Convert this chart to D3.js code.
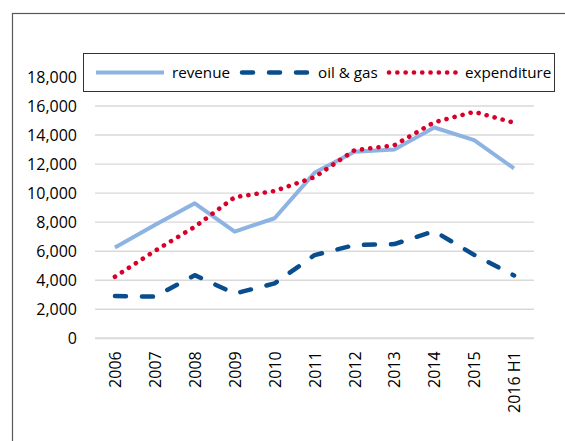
<!DOCTYPE html>
<html>
<head>
<meta charset="utf-8">
<script src="https://cdn.jsdelivr.net/npm/d3@7"></script>
<style>
  body { margin: 0; background: #fff; }
  svg { display: block; font-family: "Open Sans", sans-serif; }
</style>
</head>
<body>
<div id="chart"></div>
<script>
// data
const years = ['2006', '2007', '2008', '2009', '2010', '2011', '2012', '2013', '2014', '2015', '2016 H1'];
const revenue = [6250, 7800, 9300, 7350, 8270, 11400, 12850, 13000, 14520, 13650, 11700];
const oilGas = [2910, 2870, 4350, 3080, 3780, 5730, 6420, 6490, 7380, 5750, 4330];
const expenditure = [4240, 6020, 7680, 9720, 10150, 11100, 12950, 13300, 14880, 15600, 14850];
const yTicks = [0, 2000, 4000, 6000, 8000, 10000, 12000, 14000, 16000, 18000];

const series = [
  { name: 'revenue', values: revenue, color: '#8db3e2', dash: null, cap: 'butt', width: 4 },
  { name: 'oil & gas', values: oilGas, color: '#0a4d8c', dash: '11,16', cap: 'round', width: 4.5 },
  { name: 'expenditure', values: expenditure, color: '#d8002a', dash: '0.1,8.2', cap: 'round', width: 4.6 },
];

const W = 565, H = 441;
const plot = { left: 95, right: 534, top: 77, bottom: 338.3 };

const svg = d3.select('#chart').append('svg')
  .attr('width', W)
  .attr('height', H);

// outer frame (runs off the right and bottom edges)
svg.append('rect')
  .attr('x', 12.5).attr('y', 13.5)
  .attr('width', 600).attr('height', 500)
  .attr('fill', 'none')
  .attr('stroke', '#595959')
  .attr('stroke-width', 1.2);

const x = d3.scalePoint()
  .domain(years)
  .range([plot.left, plot.right])
  .padding(0.5);

const y = d3.scaleLinear()
  .domain([0, 18000])
  .range([plot.bottom, plot.top]);

// gridlines
svg.append('g')
  .selectAll('line')
  .data(yTicks)
  .join('line')
  .attr('x1', plot.left)
  .attr('x2', plot.right)
  .attr('y1', (d) => y(d))
  .attr('y2', (d) => y(d))
  .attr('stroke', '#d9d9d9')
  .attr('stroke-width', (d) => (d === 0 ? 2 : 1.4));

// y axis labels
const yAxis = svg.append('g')
  .attr('transform', `translate(${plot.left - 18},0)`)
  .call(d3.axisLeft(y).tickValues(yTicks).tickSize(0).tickPadding(0)
    .tickFormat(d3.format(',')));
yAxis.select('.domain').remove();
yAxis.selectAll('text')
  .attr('font-family', '"Open Sans", sans-serif')
  .attr('font-size', 16)
  .attr('fill', '#000');

// x axis labels, rotated
const xAxis = svg.append('g')
  .attr('transform', `translate(0,${plot.bottom + 13})`)
  .call(d3.axisBottom(x).tickSize(0).tickPadding(0));
xAxis.select('.domain').remove();
xAxis.selectAll('text')
  .attr('font-family', '"Open Sans", sans-serif')
  .attr('font-size', 16)
  .attr('fill', '#000')
  .attr('transform', 'rotate(-90)')
  .attr('text-anchor', 'end')
  .attr('x', 0)
  .attr('y', 0)
  .attr('dy', '0.35em');

// lines
const line = d3.line()
  .x((d, i) => x(years[i]))
  .y((d) => y(d));

svg.append('g')
  .selectAll('path')
  .data(series)
  .join('path')
  .attr('d', (d) => line(d.values))
  .attr('fill', 'none')
  .attr('stroke', (d) => d.color)
  .attr('stroke-width', (d) => d.width)
  .attr('stroke-dasharray', (d) => d.dash)
  .attr('stroke-linecap', (d) => d.cap)
  .attr('stroke-linejoin', 'round');

// legend
const legend = svg.append('g');
legend.append('rect')
  .attr('x', 83.5).attr('y', 53.5)
  .attr('width', 471).attr('height', 38)
  .attr('fill', '#fff')
  .attr('stroke', '#333')
  .attr('stroke-width', 1);

const legendX = [96, 242, 389];
const item = legend.selectAll('g.item')
  .data(series)
  .join('g')
  .attr('class', 'item')
  .attr('transform', (d, i) => `translate(${legendX[i]},72.5)`);

item.append('line')
  .attr('x1', 0).attr('x2', 68)
  .attr('stroke', (d) => d.color)
  .attr('stroke-width', (d) => d.width)
  .attr('stroke-dasharray', (d) => d.dash)
  .attr('stroke-linecap', (d) => d.cap);

item.append('text')
  .attr('x', 76)
  .attr('dy', '0.35em')
  .attr('font-size', 15.2)
  .attr('fill', '#000')
  .text((d) => d.name);
</script>
</body>
</html>
